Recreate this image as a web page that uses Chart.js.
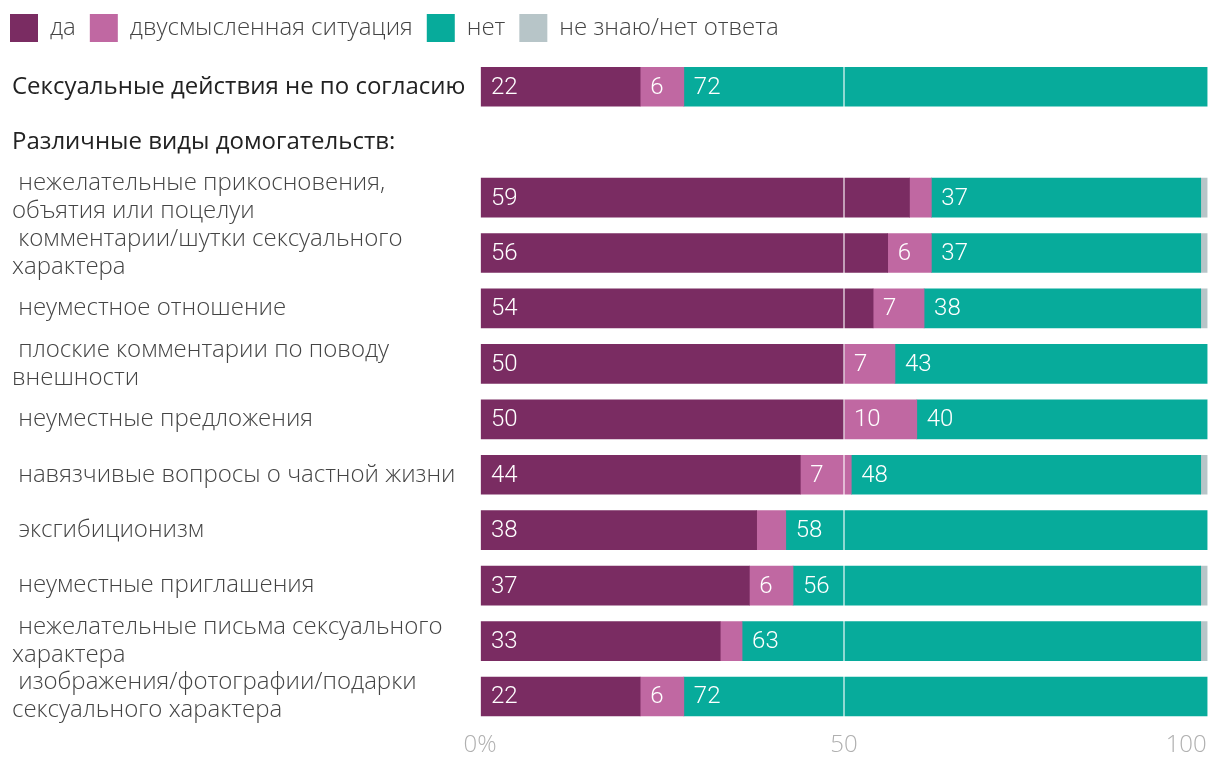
<!DOCTYPE html>
<html>
<head>
<meta charset="utf-8">
<script src="https://cdn.jsdelivr.net/npm/chart.js@4/dist/chart.umd.min.js"></script>
<style>
  html, body { margin: 0; padding: 0; background: #fff; }
  #wrap { width: 1220px; height: 774px; position: relative; }
</style>
</head>
<body>
<div id="wrap"><canvas id="chart-area"></canvas></div>
<script>
// categories (first two rows are headings, the second has no bar)
var categories = [
  'Сексуальные действия не по согласию',
  'Различные виды домогательств:',
  [' нежелательные прикосновения,', 'объятия или поцелуи'],
  [' комментарии/шутки сексуального', 'характера'],
  ' неуместное отношение',
  [' плоские комментарии по поводу', 'внешности'],
  ' неуместные предложения',
  ' навязчивые вопросы о частной жизни',
  ' эксгибиционизм',
  ' неуместные приглашения',
  [' нежелательные письма сексуального', 'характера'],
  [' изображения/фотографии/подарки', 'сексуального характера']
];

var seriesNames = ['да', 'двусмысленная ситуация', 'нет', 'не знаю/нет ответа'];

var yes       = [22, null, 59, 56, 54, 50, 50, 44, 38, 37, 33, 22];
var ambiguous = [6,  null, 3,  6,  7,  7,  10, 7,  4,  6,  3,  6];
var no        = [72, null, 37, 37, 38, 43, 40, 48, 58, 56, 63, 72];
var dontKnow  = [0,  null, 1,  1,  1,  0,  0,  1,  0,  1,  1,  0];

var xTicks = [0, 50, 100];

var colors = ['#7a2c62', '#c068a2', '#07ab9b', '#b7c5c8'];

Chart.defaults.font.family = "'Open Sans', sans-serif";

// white numbers inside the segments
var barLabels = {
  id: 'barLabels',
  afterDatasetsDraw: function(chart) {
    var ctx = chart.ctx;
    ctx.save();
    ctx.font = '300 24px Roboto, sans-serif';
    ctx.fillStyle = '#ffffff';
    ctx.textAlign = 'left';
    ctx.textBaseline = 'middle';
    chart.data.datasets.forEach(function(ds, i) {
      var meta = chart.getDatasetMeta(i);
      meta.data.forEach(function(el, j) {
        var v = ds.data[j];
        if (v == null || v < 5) return;
        var left = Math.min(el.x, el.base);
        ctx.fillText(String(v), left + 10, el.y + 1);
      });
    });
    ctx.restore();
  }
};

// legend: a bit more room below it, and flush with the left edge
var legendTweak = {
  id: 'legendTweak',
  beforeInit: function(chart) {
    var fit = chart.legend.fit;
    chart.legend.fit = function() {
      fit.call(this);
      this.height += 7;
    };
  },
  afterLayout: function(chart) {
    chart.legend.left -= 16;
    chart.legend.right -= 16;
  }
};

var config = {
  type: 'bar',
  data: {
    labels: categories,
    datasets: [yes, ambiguous, no, dontKnow].map(function(d, i) {
      return {
        label: seriesNames[i],
        data: d,
        backgroundColor: colors[i],
        borderWidth: 0,
        barThickness: 39
      };
    })
  },
  options: {
    indexAxis: 'y',
    responsive: true,
    maintainAspectRatio: false,
    animation: false,
    layout: { padding: { left: 12, right: 12, top: 0, bottom: 7 } },
    plugins: {
      legend: {
        position: 'top',
        align: 'start',
        labels: {
          boxWidth: 28,
          boxHeight: 28,
          padding: 14,
          color: '#444',
          font: { size: 24, weight: 300 }
        }
      },
      tooltip: { enabled: false },
      title: { display: false }
    },
    scales: {
      x: {
        stacked: true,
        min: 0,
        max: 100,
        afterBuildTicks: function(scale) {
          scale.ticks = xTicks.map(function(v) { return { value: v }; });
        },
        afterFit: function(scale) {
          scale.paddingLeft = 0;
          scale.paddingRight = 0;
        },
        grid: {
          z: 1,
          color: 'rgba(255,255,255,0.55)',
          lineWidth: 2,
          drawTicks: false
        },
        border: { display: false },
        ticks: {
          padding: 7,
          color: '#b0b0b0',
          font: { size: 24, weight: 300 },
          callback: function(v) {
            if (v === 0) return '0%';
            if (v === 100) return '100       ';
            return String(v);
          }
        }
      },
      y: {
        stacked: true,
        afterFit: function(scale) {
          scale.width = 468;
        },
        grid: { display: false },
        border: { display: false },
        ticks: {
          autoSkip: false,
          crossAlign: 'far',
          padding: 0,
          color: function(c) { return c.index < 2 ? '#222' : '#444'; },
          font: function(c) {
            return c.index < 2
              ? { size: 24, weight: 400, lineHeight: 1.17 }
              : { size: 24, weight: 300, lineHeight: 1.17 };
          }
        }
      }
    }
  },
  plugins: [barLabels, legendTweak]
};

window.onload = function() {
  var ctx = document.getElementById('chart-area').getContext('2d');
  window.myBar = new Chart(ctx, config);
};
</script>
</body>
</html>
